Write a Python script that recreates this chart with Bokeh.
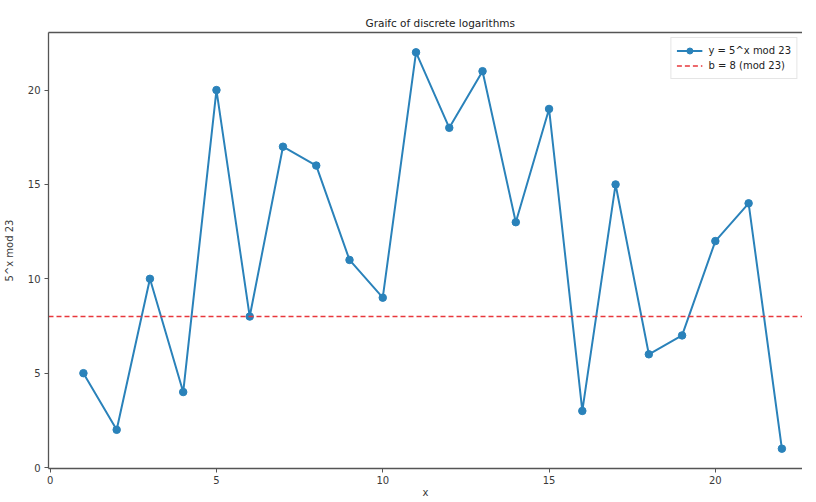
from bokeh.plotting import figure
from bokeh.models import (Range1d, FixedTicker, LinearAxis, Legend, LegendItem,
                          ColumnDataSource, Title)
from bokeh.embed import file_html
from bokeh.resources import INLINE

# data
x_vals = list(range(1, 23))
y_vals = [5, 2, 10, 4, 20, 8, 17, 16, 11, 9, 22, 18, 21, 13, 19, 3, 15, 6, 7, 12, 14, 1]
b_val = 8
x_ticks = [0, 5, 10, 15, 20]
y_ticks = [0, 5, 10, 15, 20]
title_text = "Graifc of discrete logarithms"
x_label = "x"
y_label = "5^x mod 23"
series_label = "y = 5^x mod 23"
b_label = "b = 8 (mod 23)"

FONT = "DejaVu Sans"
BLUE = "#2a82ba"
RED = "#e8383c"
AX = "#555555"
TXT = "#3a3a3a"

p = figure(width=802, height=500, output_backend="svg", toolbar_location=None,
           x_range=Range1d(-0.05, 22.62), y_range=Range1d(-0.05, 23.05),
           min_border_left=45, min_border_right=0, min_border_top=32, min_border_bottom=23)
p.title = None

p.outline_line_color = None
p.xgrid.visible = False
p.ygrid.visible = False
p.background_fill_color = "white"
p.border_fill_color = "white"

p.xaxis.ticker = FixedTicker(ticks=x_ticks)
p.yaxis.ticker = FixedTicker(ticks=y_ticks)
for ax in (p.xaxis[0], p.yaxis[0]):
    ax.axis_line_color = AX
    ax.axis_line_width = 1.3
    ax.major_tick_line_color = AX
    ax.major_tick_out = 4
    ax.major_tick_in = 0
    ax.minor_tick_line_color = None
    ax.major_label_text_font = FONT
    ax.major_label_text_font_size = "10px"
    ax.major_label_text_color = TXT
    ax.axis_label_text_font = FONT
    ax.axis_label_text_font_size = "10px"
    ax.axis_label_text_font_style = "normal"
    ax.axis_label_text_color = TXT

p.xaxis.major_label_standoff = 3
p.xaxis.axis_label = x_label
p.xaxis.axis_label_standoff = 0
p.yaxis.axis_label = y_label
p.yaxis.major_label_standoff = 4
p.yaxis.axis_label_standoff = 10

top = LinearAxis(ticker=FixedTicker(ticks=[]), major_label_text_font_size="0px",
                 axis_line_color=AX, axis_line_width=1.3, major_tick_line_color=None,
                 minor_tick_line_color=None, major_label_standoff=0)
p.add_layout(top, "above")
p.add_layout(Title(text=title_text, align="left", offset=317, text_font=FONT,
                   text_font_size="10.5px", text_font_style="normal",
                   text_color="#222222", standoff=8), "above")

src = ColumnDataSource(data=dict(x=x_vals, y=y_vals))
ln = p.line("x", "y", source=src, line_color=BLUE, line_width=2)
sc = p.scatter("x", "y", source=src, size=7.5, fill_color=BLUE, line_color=BLUE)

hs = p.hspan(y=[b_val], line_color=RED, line_width=1.6, line_dash="5 3")

legend = Legend(items=[LegendItem(label=series_label, renderers=[ln, sc]),
                       LegendItem(label=b_label, renderers=[hs])],
                location="top_right", margin=5, padding=5, spacing=0,
                label_text_font=FONT, label_text_font_size="10px", label_text_color="#222222",
                label_height=15, glyph_height=15, glyph_width=26, label_standoff=6,
                border_line_color="#cccccc", border_line_width=1,
                background_fill_alpha=0.85)
p.add_layout(legend)

open("out.html", "w").write(file_html(p, INLINE))
